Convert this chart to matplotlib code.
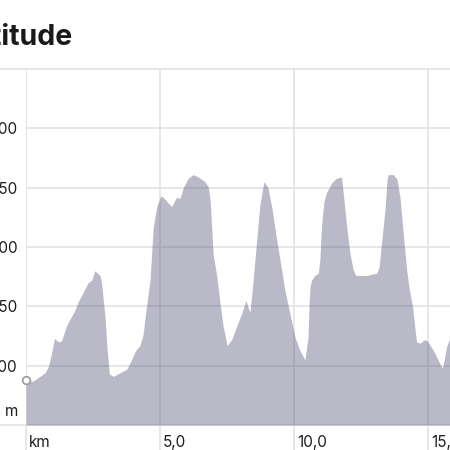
import matplotlib
matplotlib.use("Agg")
import matplotlib.pyplot as plt
from matplotlib.transforms import ScaledTranslation

km = [0.00, 0.27, 0.52, 0.71, 0.83, 0.96, 1.06, 1.21, 1.33, 1.52,
      1.64, 1.83, 1.95, 2.14, 2.32, 2.45, 2.57, 2.76, 2.82, 2.95,
      3.03, 3.11, 3.26, 3.51, 3.76, 3.94, 4.07, 4.25, 4.37, 4.48,
      4.63, 4.75, 4.88, 5.03, 5.12, 5.31, 5.44, 5.62, 5.75, 5.87,
      6.06, 6.24, 6.43, 6.68, 6.80, 6.87, 6.93, 6.99, 7.12, 7.24,
      7.36, 7.51, 7.68, 7.86, 8.05, 8.21, 8.29, 8.36, 8.42, 8.48,
      8.58, 8.73, 8.88, 9.03, 9.18, 9.33, 9.54, 9.66, 9.85, 10.04,
      10.22, 10.41, 10.53, 10.57, 10.60, 10.66, 10.78, 10.91, 10.97, 11.03,
      11.12, 11.22, 11.41, 11.59, 11.78, 11.84, 11.97, 12.09, 12.21, 12.31,
      12.71, 13.09, 13.18, 13.27, 13.40, 13.48, 13.52, 13.71, 13.85, 13.96,
      14.08, 14.21, 14.31, 14.43, 14.51, 14.58, 14.70, 14.89, 15.01, 15.20,
      15.38, 15.54, 15.63, 15.70, 15.82, 16.00, 16.50]
alt = [187, 187, 191, 194, 199, 211, 223, 220, 221, 234,
       239, 247, 254, 262, 270, 272, 280, 276, 270, 241,
       213, 193, 191, 194, 197, 205, 212, 217, 226, 247,
       272, 317, 334, 343, 342, 337, 334, 342, 341, 350,
       358, 361, 359, 355, 351, 340, 317, 293, 276, 253,
       233, 217, 222, 233, 244, 255, 249, 245, 258, 272,
       298, 335, 355, 350, 333, 310, 281, 264, 244, 224,
       213, 205, 224, 253, 266, 272, 276, 278, 289, 317,
       338, 346, 354, 358, 359, 346, 317, 295, 281, 276,
       276, 278, 283, 303, 331, 357, 361, 361, 357, 342,
       312, 281, 264, 250, 233, 220, 219, 222, 220, 213,
       205, 198, 207, 216, 223, 228, 236]

x_ticks = [0, 5, 10, 15]
x_labels = ["km", "5,0", "10,0", "15,0"]
y_ticks = [200, 250, 300, 350, 400]
y_labels = ["200", "250", "300", "350", "400"]
y_min, y_max = 150, 450
x_max = 16.5
title = "Altitude"
unit_y = "m"

plt.rcParams["font.family"] = ["Inter", "DejaVu Sans"]

W = H = 450
fig = plt.figure(figsize=(4.5, 4.5), dpi=100)
ax = fig.add_axes([26 / W, 25 / H, (468 - 26) / W, (425 - 69) / H])
ax.set_xlim(0, x_max)
ax.set_ylim(y_min, y_max)

grid_c = "#e3e3e6"
ax.set_axisbelow(True)
ax.grid(True, color=grid_c, lw=1.2)
for s in ax.spines.values():
    s.set_visible(False)

ax.fill_between(km, alt, y_min, color="#55557a", alpha=0.41, lw=0, zorder=2)
ax.plot([km[0]], [alt[0] + 1], marker="o", ms=5.5, mfc="white", mec="#9a9a9a",
        mew=1.2, clip_on=False, zorder=5)

# extended lines
for v in (y_min, y_max):
    ax.plot([-0.1, 1.0], [v, v], transform=ax.get_yaxis_transform(),
            color=grid_c, lw=1.2, clip_on=False, zorder=0.5)
for xv in x_ticks:
    ax.plot([xv, xv], [-0.2, 0], transform=ax.get_xaxis_transform(),
            color=grid_c, lw=1.2, clip_on=False, zorder=0.5)

ax.set_yticks(y_ticks)
ax.set_yticklabels(y_labels)
ax.set_xticks(x_ticks)
ax.set_xticklabels(x_labels)
ax.tick_params(axis="both", length=0, labelsize=11, colors="#1e1e1e")
ax.tick_params(axis="y", pad=6)
ax.tick_params(axis="x", pad=7)
off = ScaledTranslation(3 / 100, 0, fig.dpi_scale_trans)
for lab in ax.get_xticklabels():
    lab.set_horizontalalignment("left")
    lab.set_transform(lab.get_transform() + off)

fig.text(18 / W, 1 - 412 / H, unit_y, ha="right", va="center",
         fontsize=11, color="#1e1e1e")
fig.text(73 / W, 1 - 45 / H, title, ha="right", va="baseline",
         fontsize=20.5, fontweight="bold", color="#1a1a1a")

fig.savefig("out.png", dpi=100)
